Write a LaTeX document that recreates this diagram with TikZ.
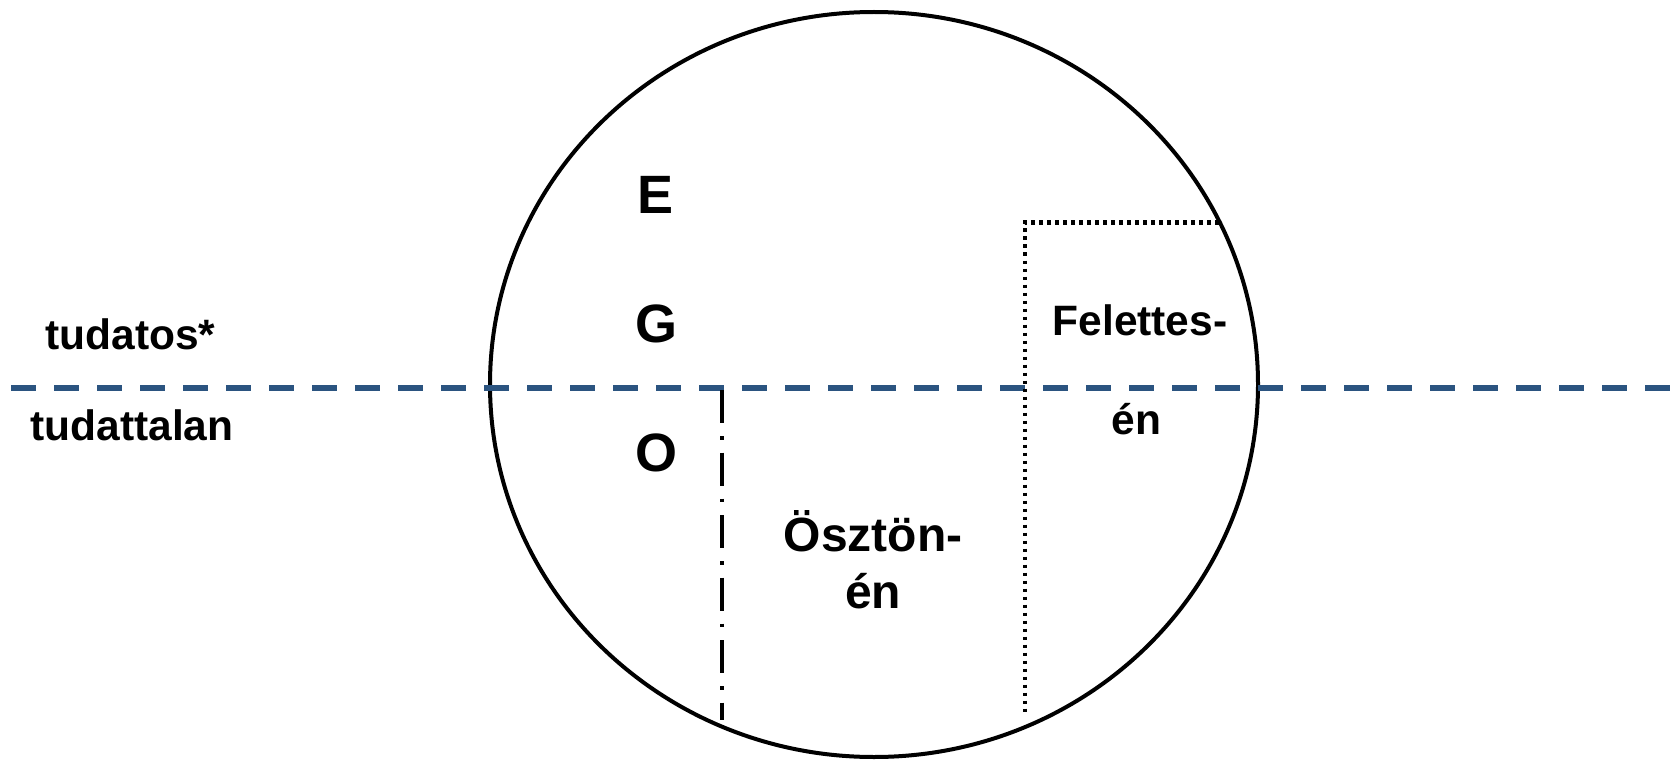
\documentclass[tikz,border=0pt]{standalone}
\usepackage{fontspec}
\setmainfont{Liberation Sans}
\usetikzlibrary{shapes.geometric}
\definecolor{lineblue}{RGB}{43,84,128}
\tikzset{
  lbl/.style={font=\fontsize{42.5}{46}\selectfont\bfseries, anchor=base, inner sep=0pt},
  midl/.style={font=\fontsize{48}{52}\selectfont\bfseries, anchor=base, inner sep=0pt},
  bigl/.style={font=\fontsize{54}{58}\selectfont\bfseries, anchor=base, inner sep=0pt},
  sep/.style={draw=lineblue, line width=5.5pt, dash pattern=on 25pt off 18pt},
  egoline/.style={draw=black, line width=4pt, dash pattern=on 33pt off 13pt on 3.5pt off 13pt},
  superline/.style={draw=black, line width=4pt, dash pattern=on 3.8pt off 4.2pt},
  psyche/.style={draw=black, line width=4pt, ellipse, inner sep=0pt, minimum width=768pt, minimum height=745pt}
}
\begin{document}
\begin{tikzpicture}[x=1pt,y=-1pt]
\useasboundingbox (0,0) rectangle (1678,762);
\node[psyche] (psy) at (874,384.5) {};
% separator line
\coordinate (sepL) at (11,388);
\coordinate (sepR) at (1678,388);
\draw[sep] (sepL) -- (sepR);
% ego boundary
\coordinate (egoT) at (722,390);
\coordinate (egoB) at (722,720);
\draw[egoline] (egoT) -- (egoB);
% superego boundary
\coordinate (supR) at (1219,222.5);
\coordinate (supC) at (1025,222.5);
\coordinate (supB) at (1025,715);
\draw[superline] (supR) -- (supC) -- (supB);
% labels
\node[lbl] (tud) at (130.5,349) {tudatos*};
\node[lbl] (tudt) at (132,440) {tudattalan};
\node[bigl] (E) at (655,214) {E};
\node[bigl] (G) at (656,342.5) {G};
\node[bigl] (O) at (656,471) {O};
\node[midl] (osz1) at (873,551) {Ösztön-};
\node[midl] (osz2) at (873,608) {én};
\node[lbl] (fel1) at (1140,335) {Felettes-};
\node[lbl] (fel2) at (1136.5,434.5) {én};
\end{tikzpicture}
\end{document}
